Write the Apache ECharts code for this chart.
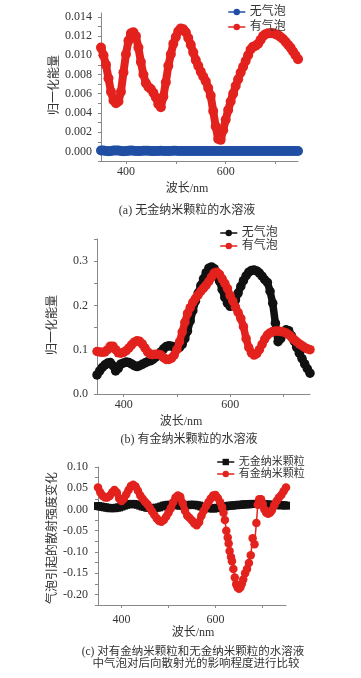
<!DOCTYPE html>
<html>
<head>
<meta charset="utf-8">
<script src="https://cdn.jsdelivr.net/npm/echarts/dist/echarts.min.js"></script>
<style>
  html, body { margin: 0; padding: 0; background: #fff; }
  #container { width: 361px; height: 678px; }
</style>
</head>
<body>
<div id="container"></div>
<script>
// ---- (a) 无金纳米颗粒的水溶液 ----
const aWave = [350,355,360,365,370,375,380,385,390,395,
  400,405,410,415,420,425,430,435,440,445,
  450,455,460,465,470,475,480,485,490,495,
  500,505,510,515,520,525,530,535,540,545,
  550,555,560,565,570,575,580,585,590,595,
  600,605,610,615,620,625,630,635,640,645,
  650,655,660,665,670,675,680,685,690,695,
  700,705,710,715,720,725,730,735,740,745];
const aNoBubble = [0.0001,0.00008,0.00004,0.00002,0.00004,0.00008,0.0001,0.00008,0.00004,0.00002,
  0.00003,0.00006,0.00008,0.00007,0.00004,0.00003,0.00004,0.00006,0.00007,0.00006,
  0.00004,0.00003,0.00004,0.00005,0.00006,0.00005,0.00004,0.00004,0.00005,0.00006,
  0.00006,0.00005,0.00004,0.00004,0.00005,0.00005,0.00005,0.00004,0.00004,0.00004,
  0.00005,0.00005,0.00004,0.00004,0.00005,0.00005,0.00004,0.00004,0.00004,0.00005,
  0.00005,0.00004,0.00004,0.00005,0.00005,0.00004,0.00004,0.00004,0.00005,0.00005,
  0.00004,0.00004,0.00005,0.00005,0.00004,0.00004,0.00004,0.00005,0.00005,0.00004,
  0.00004,0.00005,0.00005,0.00004,0.00004,0.00004,0.00005,0.00005,0.00004,0.00004];
const aBubble = [0.0108,0.0100,0.0090,0.0076,0.0062,0.0053,0.0050,0.0052,0.0062,0.0082,
  0.0101,0.0115,0.0123,0.0124,0.0120,0.0108,0.0093,0.0080,0.0071,0.0067,
  0.0065,0.0061,0.0056,0.0049,0.0046,0.0057,0.0072,0.0089,0.0101,0.0112,
  0.0119,0.0125,0.0128,0.0127,0.0124,0.0118,0.0111,0.0103,0.0095,0.0089,
  0.0083,0.0078,0.0073,0.0066,0.0058,0.0042,0.0026,0.0013,0.0012,0.0022,
  0.0033,0.0043,0.0052,0.0060,0.0068,0.0075,0.0082,0.0088,0.0094,0.0100,
  0.0106,0.0109,0.0110,0.0112,0.0116,0.0120,0.0122,0.0123,0.0123,0.0123,
  0.0122,0.0121,0.0119,0.0117,0.0114,0.0111,0.0108,0.0104,0.0100,0.0096];
const aYLabels = [0,0.002,0.004,0.006,0.008,0.010,0.012,0.014];
const aYTicks = [-0.001,0,0.001,0.002,0.003,0.004,0.005,0.006,0.007,0.008,0.009,0.010,0.011,0.012,0.013,0.014];

// ---- (b) 有金纳米颗粒的水溶液 ----
const bWave = [350,355,360,365,370,375,380,385,390,395,
  400,405,410,415,420,425,430,435,440,445,
  450,455,460,465,470,475,480,485,490,495,
  500,505,510,515,520,525,530,535,540,545,
  550,555,560,565,570,575,580,585,590,595,
  600,605,610,615,620,625,630,635,640,645,
  650,655,660,665,670,675,680,685,690,695,
  700,705,710,715,720,725,730,735,740,745,750];
const bNoBubble = [0.043,0.052,0.060,0.066,0.070,0.071,0.064,0.052,0.058,0.068,
  0.070,0.072,0.071,0.068,0.064,0.062,0.064,0.067,0.070,0.073,
  0.075,0.078,0.083,0.088,0.095,0.102,0.107,0.109,0.108,0.106,
  0.104,0.105,0.112,0.125,0.142,0.165,0.188,0.210,0.228,0.245,
  0.260,0.274,0.284,0.287,0.283,0.272,0.255,0.236,0.218,0.205,
  0.198,0.200,0.212,0.228,0.243,0.256,0.267,0.275,0.279,0.280,
  0.278,0.273,0.266,0.258,0.252,0.232,0.205,0.160,0.118,0.125,
  0.138,0.145,0.143,0.132,0.120,0.105,0.092,0.080,0.068,0.057,0.047];
const bBubble = [0.096,0.095,0.094,0.095,0.100,0.108,0.108,0.100,0.093,0.092,
  0.094,0.098,0.104,0.111,0.117,0.120,0.119,0.113,0.104,0.095,
  0.090,0.089,0.090,0.090,0.088,0.082,0.078,0.078,0.081,0.088,
  0.100,0.118,0.140,0.162,0.182,0.195,0.207,0.216,0.224,0.232,
  0.239,0.246,0.254,0.264,0.273,0.275,0.270,0.260,0.250,0.238,
  0.222,0.210,0.196,0.184,0.171,0.152,0.125,0.105,0.093,0.088,
  0.091,0.100,0.112,0.124,0.133,0.138,0.141,0.142,0.142,0.141,
  0.140,0.138,0.134,0.129,0.123,0.118,0.113,0.109,0.105,0.102,0.100];
const bYLabels = [0,0.1,0.2,0.3];
const bYTicks = [0,0.05,0.1,0.15,0.2,0.25,0.3,0.35];

// ---- (c) 比较 ----
const cWave = bWave;
const cNoGold = [0.008,0.007,0.006,0.005,0.004,0.003,0.003,0.003,0.004,0.005,
  0.007,0.009,0.011,0.012,0.013,0.013,0.012,0.011,0.009,0.007,
  0.006,0.004,0.004,0.003,0.003,0.004,0.005,0.007,0.009,0.010,
  0.011,0.011,0.011,0.010,0.010,0.009,0.009,0.010,0.010,0.011,
  0.011,0.011,0.010,0.009,0.007,0.005,0.004,0.003,0.003,0.002,
  0.003,0.004,0.005,0.006,0.007,0.008,0.009,0.009,0.010,0.010,
  0.011,0.011,0.012,0.012,0.012,0.013,0.013,0.013,0.013,0.013,
  0.012,0.012,0.012,0.011,0.011,0.011,0.010,0.010,0.010,0.010,0.009];
const cGoldWave = [350,355,360,365,370,375,380,385,390,395,400,405,410,415,420,425,430,435,440,445,
  450,455,460,465,470,475,480,485,490,495,500,505,510,515,520,525,530,535,540,545,
  550,555,560,565,570,575,580,585,590,595,600,605,610,614,617,620,623,626,628,630,
  633,635,638,641,644,647,650,653,656,659,663,667,671,675,679,683,687,690,693,697,
  700,704,708,712,716,720,725,730,735,740,745,750];
const cGold = [0.052,0.040,0.032,0.028,0.028,0.032,0.040,0.046,0.040,0.026,
  0.020,0.025,0.035,0.046,0.055,0.058,0.054,0.044,0.033,0.025,
  0.018,0.012,0.004,-0.005,-0.013,-0.021,-0.027,-0.029,-0.025,-0.017,
  -0.008,0.003,0.017,0.028,0.033,0.030,0.015,-0.003,-0.015,-0.020,
  -0.026,-0.033,-0.037,-0.030,-0.015,-0.003,0.008,0.017,0.026,0.033,
  0.034,0.027,0.017,0.005,-0.008,-0.025,-0.050,-0.066,-0.080,-0.098,
  -0.112,-0.122,-0.140,-0.160,-0.176,-0.184,-0.187,-0.183,-0.175,-0.165,
  -0.150,-0.140,-0.126,-0.108,-0.068,-0.082,-0.032,0.011,0.024,0.024,
  0.014,0.000,-0.008,-0.010,-0.008,-0.002,0.010,0.020,0.028,0.034,0.043,0.052];
const cYLabels = [-0.2,-0.15,-0.1,-0.05,0,0.05,0.1];
const cYTicks = [-0.225,-0.2,-0.175,-0.15,-0.125,-0.1,-0.075,-0.05,-0.025,0,0.025,0.05,0.075,0.1];

const xTicks = [400,500,600,700];
const xLabels = [400,600];

const font = "'Liberation Serif', 'Noto Sans CJK SC', serif";
const txt = '#333';
const red = '#e3221d';
const blue = '#1f4ea3';
const black = '#111';

const myChart = echarts.init(document.getElementById('container'));

const pairs = (xs, ys) => xs.map((x, i) => [x, ys[i]]);

const xAxisOf = (grid, max, margin) => ({
  type: 'value', gridIndex: grid, min: 350, max: max,
  axisLine: { show: true, onZero: false, lineStyle: { color: '#888' } },
  axisTick: { show: true, length: 3, customValues: xTicks, lineStyle: { color: '#888' } },
  axisLabel: { customValues: xLabels, margin: margin, color: txt, fontFamily: font, fontSize: 12 },
  splitLine: { show: false }
});

const yAxisOf = (grid, min, max, labels, ticks, digits, margin) => ({
  type: 'value', gridIndex: grid, min: min, max: max,
  axisLine: { show: true, onZero: false, lineStyle: { color: '#888' } },
  axisTick: { show: true, length: 3, customValues: ticks, lineStyle: { color: '#888' } },
  axisLabel: {
    customValues: labels, margin: margin, color: txt, fontFamily: font, fontSize: 12,
    formatter: v => v.toFixed(digits)
  },
  splitLine: { show: false }
});

// 点很密，用粗线把点连成一条带
const lineSeries = (name, idx, data, color, size, symbol, width, z) => ({
  name: name, type: 'line', xAxisIndex: idx, yAxisIndex: idx,
  data: data, symbol: symbol, symbolSize: size, showSymbol: true,
  lineStyle: { width: width, color: color, cap: 'round', join: 'round' },
  itemStyle: { color: color },
  z: z, animation: false, silent: true
});

// (c) 红线只在点密的部分加粗
const underlay = (data, lo, hi) => ({
  name: 'c|underlay', type: 'line', xAxisIndex: 2, yAxisIndex: 2,
  data: data.filter(p => p[0] >= lo && p[0] <= hi), showSymbol: false,
  lineStyle: { width: 7, color: red, cap: 'round', join: 'round' },
  z: 3, animation: false, silent: true
});

const legendOf = (left, top, gap, size, names) => ({
  orient: 'vertical', left: left, top: top, padding: 0, itemGap: gap,
  itemWidth: 16, itemHeight: 8, selectedMode: false,
  formatter: n => n.slice(2),
  textStyle: { fontFamily: font, fontSize: size, color: txt, lineHeight: 12 },
  itemStyle: { borderWidth: 0 },
  lineStyle: { width: 1.5 },
  data: names
});

const label = (text, x, y, size, rotate) => ({
  type: 'text', x: x, y: y, rotation: rotate ? Math.PI / 2 : 0,
  style: { text: text, font: size + 'px ' + font, fill: txt, textAlign: 'center', textVerticalAlign: 'middle' }
});

const cGoldPairs = pairs(cGoldWave, cGold);

const option = {
  backgroundColor: '#fff',
  grid: [
    { left: 101, top: 13, width: 197, height: 148 },
    { left: 97, top: 239, width: 213, height: 155 },
    { left: 98, top: 467, width: 188, height: 138 }
  ],
  xAxis: [xAxisOf(0, 745, 5), xAxisOf(1, 750, 5), xAxisOf(2, 750, 9)],
  yAxis: [
    yAxisOf(0, -0.001, 0.0144, aYLabels, aYTicks, 3, 9),
    yAxisOf(1, 0, 0.35, bYLabels, bYTicks, 1, 9),
    yAxisOf(2, -0.225, 0.1, cYLabels, cYTicks, 2, 10)
  ],
  legend: [
    legendOf(228, 6, 3, 12, ['a|无气泡', 'a|有气泡']),
    legendOf(220, 227, 1, 12, ['b|无气泡', 'b|有气泡']),
    legendOf(217, 456, 0, 11, ['c|无金纳米颗粒', 'c|有金纳米颗粒'])
  ],
  series: [
    lineSeries('a|无气泡', 0, pairs(aWave, aNoBubble), blue, 10, 'circle', 8, 2),
    lineSeries('a|有气泡', 0, pairs(aWave, aBubble), red, 10, 'circle', 8, 3),
    lineSeries('b|无气泡', 1, pairs(bWave, bNoBubble), black, 9.5, 'circle', 7.5, 2),
    lineSeries('b|有气泡', 1, pairs(bWave, bBubble), red, 9.5, 'circle', 7.5, 3),
    lineSeries('c|无金纳米颗粒', 2, pairs(cWave, cNoGold), black, 8, 'rect', 7, 2),
    underlay(cGoldPairs, 350, 612),
    underlay(cGoldPairs, 690, 750),
    lineSeries('c|有金纳米颗粒', 2, cGoldPairs, red, 8.5, 'circle', 1.5, 4)
  ],
  graphic: [
    label('归一化能量', 55, 85, 12, true),
    label('波长/nm', 187, 189, 12),
    label('(a) 无金纳米颗粒的水溶液', 187, 211, 12),
    label('归一化能量', 53, 325, 12, true),
    label('波长/nm', 181, 422, 12),
    label('(b) 有金纳米颗粒的水溶液', 189, 440, 12),
    label('气泡引起的散射强度变化', 53, 538, 12, true),
    label('波长/nm', 193, 633, 12),
    label('(c) 对有金纳米颗粒和无金纳米颗粒的水溶液', 193, 652, 11.5),
    label('中气泡对后向散射光的影响程度进行比较', 196, 664, 11.5)
  ]
};

// 使用刚指定的配置项和数据显示图表。
myChart.setOption(option);
</script>
</body>
</html>
